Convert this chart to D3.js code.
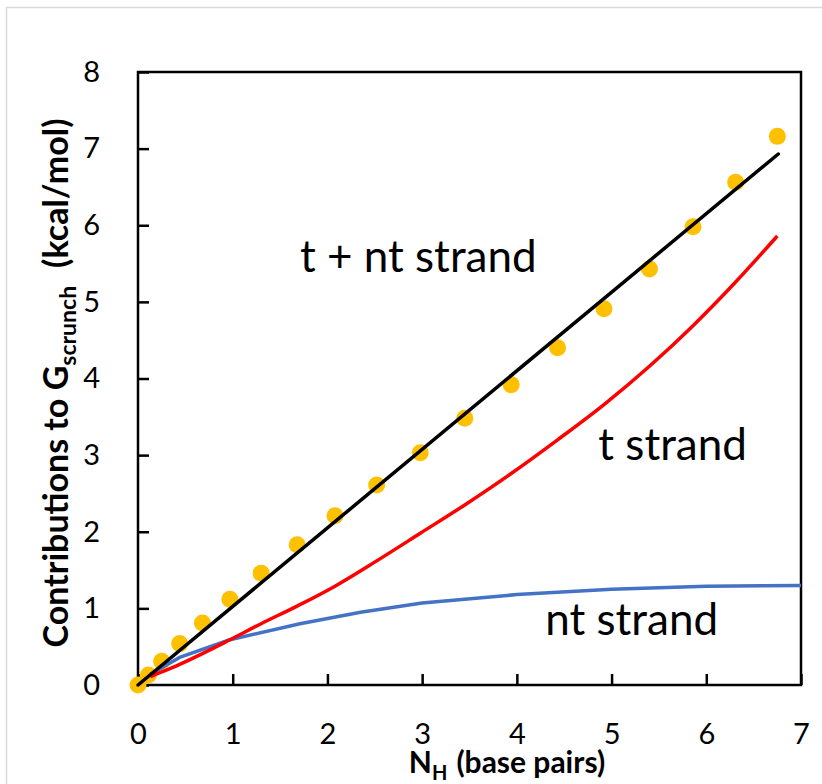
<!DOCTYPE html>
<html>
<head>
<meta charset="utf-8">
<script src="https://cdn.jsdelivr.net/npm/d3@7"></script>
<style>
body { margin: 0; background: #fff; }
text { font-family: Lato, "Open Sans", sans-serif; fill: #000; }
</style>
</head>
<body>
<svg id="chart"></svg>
<script>
// measured scrunching energy, t + nt strand
var nH = [0, 0.11, 0.25, 0.44, 0.68, 0.97, 1.30, 1.68, 2.08, 2.52, 2.98, 3.45, 3.94, 4.43, 4.92, 5.40, 5.86, 6.31, 6.75]
var gTotal = [0, 0.13, 0.31, 0.54, 0.81, 1.12, 1.46, 1.83, 2.21, 2.61, 3.03, 3.48, 3.92, 4.40, 4.91, 5.43, 5.98, 6.56, 7.16]

// straight line fit through the total
var fitX = [0, 6.76]
var fitY = [0, 6.93]

// t strand contribution
var tX = [0.13, 0.25, 0.44, 0.68, 0.97, 1.30, 1.68, 2.08, 2.52, 2.98, 3.45, 3.94, 4.43, 4.92, 5.40, 5.86, 6.31, 6.75]
var tY = [0.11, 0.17, 0.27, 0.41, 0.59, 0.80, 1.03, 1.29, 1.62, 1.98, 2.35, 2.76, 3.20, 3.66, 4.16, 4.69, 5.26, 5.86]

// nt strand contribution
var ntX = [0.13, 0.44, 0.97, 1.71, 2.35, 3.0, 4.0, 5.0, 6.0, 7.0]
var ntY = [0.14, 0.36, 0.59, 0.80, 0.95, 1.07, 1.18, 1.25, 1.29, 1.30]

var xTicks = [0, 1, 2, 3, 4, 5, 6, 7]
var yTicks = [0, 1, 2, 3, 4, 5, 6, 7, 8]

// annotation labels [text, x, y] in data units
var labels = [
	["t + nt strand", 1.71, 5.39],
	["t strand", 4.86, 2.94],
	["nt strand", 4.30, 0.65]
]

const width = 822
const height = 784
const margin = {top: 72, right: 21, bottom: 99, left: 138}

const svg = d3.select("#chart")
	.attr("width", width)
	.attr("height", height)

// light outer frame of the chart area
svg.append("rect")
	.attr("x", 6.5)
	.attr("y", 7.5)
	.attr("width", 840)
	.attr("height", 800)
	.style("fill", "none")
	.style("stroke", "#d9d9d9")
	.style("stroke-width", 1.5)

var x = d3.scaleLinear()
	.domain([0, 7])
	.range([margin.left, width - margin.right])

var y = d3.scaleLinear()
	.domain([0, 8])
	.range([height - margin.bottom, margin.top])

var xAxis = d3.axisBottom(x)
	.tickValues(xTicks)
	.tickSizeInner(-11)
	.tickSizeOuter(0)
	.tickPadding(38)
	.tickFormat(d3.format("d"))

var yAxis = d3.axisLeft(y)
	.tickValues(yTicks)
	.tickSizeInner(-11)
	.tickSizeOuter(0)
	.tickPadding(38)
	.tickFormat(d3.format("d"))

svg.append("g")
	.attr("transform", "translate(0," + (height - margin.bottom) + ")")
	.call(xAxis)
	.call(g => g.select(".domain").remove())
	.call(g => g.selectAll("line").style("stroke", "#000").style("stroke-width", 2.5))
	.selectAll("text")
		.style("font-size", "29px")
		.style("font-family", "Lato, sans-serif")

svg.append("g")
	.attr("transform", "translate(" + margin.left + ",0)")
	.call(yAxis)
	.call(g => g.select(".domain").remove())
	.call(g => g.selectAll("line").style("stroke", "#000").style("stroke-width", 2.5))
	.selectAll("text")
		.style("font-size", "29px")
		.style("font-family", "Lato, sans-serif")

// plot frame
svg.append("rect")
	.attr("x", x(0))
	.attr("y", y(8))
	.attr("width", x(7) - x(0))
	.attr("height", y(0) - y(8))
	.style("fill", "none")
	.style("stroke", "#000")
	.style("stroke-width", 2.5)

// data points
svg.append("g")
	.selectAll("circle")
	.data(nH)
	.enter()
	.append("circle")
	.attr("cx", d => x(d))
	.attr("cy", (d, i) => y(gTotal[i]))
	.attr("r", 8.5)
	.style("fill", "#ffc000")

const line = d3.line()
	.x(d => x(d[0]))
	.y(d => y(d[1]))

svg.append("path")
	.datum(ntX.map((d, i) => [d, ntY[i]]))
	.attr("d", line)
	.style("fill", "none")
	.style("stroke", "#4472c4")
	.style("stroke-width", 3.5)

svg.append("path")
	.datum(tX.map((d, i) => [d, tY[i]]))
	.attr("d", line.curve(d3.curveMonotoneX))
	.style("fill", "none")
	.style("stroke", "#ff0000")
	.style("stroke-width", 3.5)

svg.append("path")
	.datum(fitX.map((d, i) => [d, fitY[i]]))
	.attr("d", d3.line().x(d => x(d[0])).y(d => y(d[1])))
	.style("fill", "none")
	.style("stroke", "#000")
	.style("stroke-width", 3.5)
	.style("stroke-linecap", "round")

svg.selectAll(".note")
	.data(labels)
	.enter()
	.append("text")
	.attr("class", "note")
	.attr("x", d => x(d[1]))
	.attr("y", d => y(d[2]))
	.style("font-size", "44px")
	.text(d => d[0])

// y axis title with subscript
var yTitle = svg.append("text")
	.attr("transform", "translate(68," + 383 + ") rotate(-90)")
	.style("text-anchor", "middle")
	.style("font-weight", "bold")
	.style("font-size", "34px")
yTitle.append("tspan").text("Contributions to G")
yTitle.append("tspan").text("scrunch").style("font-size", "23px").attr("dy", 8)
yTitle.append("tspan").text("(kcal/mol)").attr("dy", -8).attr("dx", 18)

// x axis title with subscript
var xTitle = svg.append("text")
	.attr("x", 507)
	.attr("y", 773)
	.style("text-anchor", "middle")
	.style("font-weight", "bold")
	.style("font-size", "30px")
xTitle.append("tspan").text("N")
xTitle.append("tspan").text("H").style("font-size", "20px").attr("dy", 7)
xTitle.append("tspan").text("(base pairs)").attr("dy", -7).attr("dx", 9)
</script>
</body>
</html>
